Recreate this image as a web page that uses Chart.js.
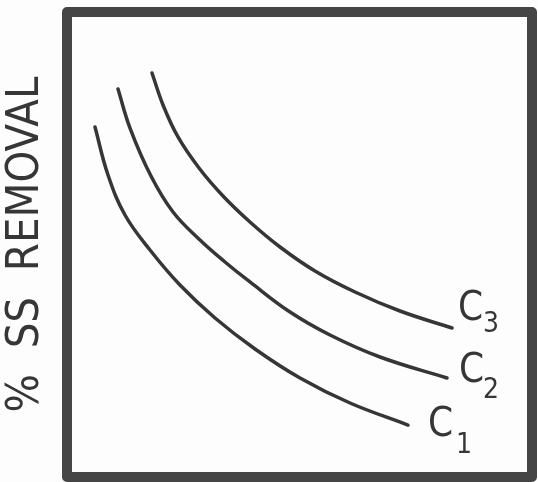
<!DOCTYPE html>
<html>
<head>
<meta charset="utf-8">
<script src="https://cdn.jsdelivr.net/npm/chart.js@4.4.1/dist/chart.umd.min.js"></script>
<style>
  html, body { margin: 0; padding: 0; background: #fdfdfd; }
  #wrap { width: 538px; height: 482px; position: relative; }
</style>
</head>
<body>
<div id="wrap"><canvas id="c" width="538" height="482"></canvas></div>
<script>
// ---- data (schematic units, 0..100 on both axes) ----
const yAxisLabel = "%  SS  REMOVAL";
const seriesNames = ["C1", "C2", "C3"];
const seriesSubscripts = ["1", "2", "3"];

const c1X = [6.02, 8.82, 12.47, 17.85, 24.30, 31.83, 40.43, 50.11, 60.86, 73.33];
const c1Y = [75.27, 64.95, 56.34, 48.82, 41.29, 34.19, 27.53, 21.29, 15.91, 11.18];

const c2X = [10.97, 13.55, 18.06, 22.80, 28.60, 33.98, 39.35, 47.96, 56.56, 67.31, 81.72];
const c2Y = [83.44, 75.05, 64.73, 56.99, 50.97, 46.24, 41.94, 35.48, 30.54, 25.81, 21.29];

const c3X = [18.28, 20.65, 23.87, 28.39, 33.55, 39.35, 45.81, 53.33, 61.94, 71.61, 82.80];
const c3Y = [86.88, 80.00, 73.12, 66.45, 60.43, 54.84, 49.46, 44.30, 39.78, 35.70, 32.04];

const xMin = 0, xMax = 100, yMin = 0, yMax = 100;

function pts(xs, ys) { return xs.map((x, i) => ({ x: x, y: ys[i] })); }

const ink = '#363636';
const frame = '#454545';
const fontFamily = '"Liberation Sans Narrow", "DejaVu Sans Condensed", sans-serif';

// frame around the plotting area
const framePlugin = {
  id: 'frame',
  afterDatasetsDraw(chart) {
    const a = chart.chartArea, ctx = chart.ctx;
    ctx.save();
    ctx.strokeStyle = frame;
    ctx.lineWidth = 10;
    ctx.lineJoin = 'round';
    ctx.strokeRect(a.left, a.top, a.right - a.left, a.bottom - a.top);
    ctx.restore();
  }
};

// curve end labels "C" with subscript
const endLabelPlugin = {
  id: 'endLabels',
  afterDatasetsDraw(chart, args, opts) {
    const ctx = chart.ctx;
    ctx.save();
    ctx.fillStyle = ink;
    ctx.textBaseline = 'middle';
    ctx.textAlign = 'left';
    chart.data.datasets.forEach((ds, i) => {
      const meta = chart.getDatasetMeta(i);
      const last = meta.data[meta.data.length - 1];
      const o = opts.offsets[i];
      ctx.font = '40px ' + fontFamily;
      ctx.fillText('C', last.x + o[0], last.y + o[1]);
      ctx.font = '28px ' + fontFamily;
      ctx.fillText(seriesSubscripts[i], last.x + o[2], last.y + o[3]);
    });
    ctx.restore();
  }
};

const datasets = [pts(c1X, c1Y), pts(c2X, c2Y), pts(c3X, c3Y)].map((d, i) => ({
  label: seriesNames[i],
  data: d,
  borderColor: ink,
  borderWidth: 3.5,
  borderCapStyle: 'round',
  pointRadius: 0,
  fill: false,
  tension: 0.4
}));

new Chart(document.getElementById('c'), {
  type: 'line',
  data: { datasets: datasets },
  plugins: [framePlugin, endLabelPlugin],
  options: {
    responsive: false,
    animation: false,
    events: [],
    layout: { padding: { left: 0, right: 6, top: 12, bottom: 5 } },
    plugins: {
      legend: { display: false },
      tooltip: { enabled: false },
      endLabels: { offsets: [[20, 1, 48, 21], [12, -6, 36, 13], [6, -18, 31, -3]] }
    },
    scales: {
      x: {
        type: 'linear', min: xMin, max: xMax,
        display: false
      },
      y: {
        type: 'linear', min: yMin, max: yMax,
        display: true,
        ticks: { display: false },
        grid: { display: false, drawTicks: false },
        border: { display: false },
        title: {
          display: true,
          text: yAxisLabel,
          color: ink,
          font: { family: fontFamily, size: 45, lineHeight: 1 },
          padding: { top: 4, bottom: 18 }
        }
      }
    }
  }
});
</script>
</body>
</html>
